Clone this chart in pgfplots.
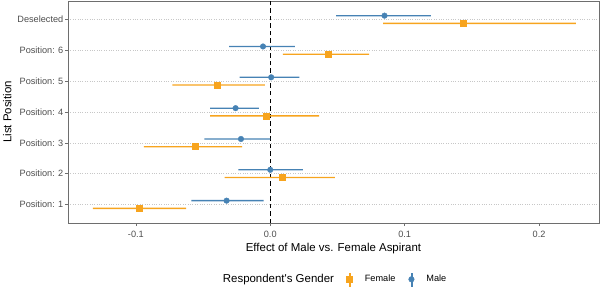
\documentclass[border=0pt]{standalone}
\usepackage{pgfplots}
\pgfplotsset{compat=1.18}
\usepackage{fontspec}
\setmainfont{Liberation Sans}
\definecolor{fem}{RGB}{247,164,30}
\definecolor{mal}{RGB}{70,130,180}
\definecolor{tickgray}{RGB}{77,77,77}
\definecolor{frame}{RGB}{110,110,110}
\begin{document}
\begin{tikzpicture}
\begin{axis}[
 at={(0,0)}, anchor=south west,
 scale only axis, width=531bp, height=222bp,
 xmin=-0.1505, xmax=0.2446, ymin=0.4, ymax=7.6,
 xtick={-0.1,0,0.1,0.2}, xticklabels={-0.1,0.0,0.1,0.2},
 ytick={1,2,3,4,5,6,7},
 yticklabels={Position: 1,Position: 2,Position: 3,Position: 4,Position: 5,Position: 6,Deselected},
 tick align=outside, tick pos=left, major tick length=3bp,
 tick style={frame, line width=0.6bp},
 axis line style={frame, line width=0.6bp},
 ticklabel style={font=\fontsize{9.2}{10}\selectfont, text=tickgray},
 xticklabel style={anchor=north, inner sep=0bp, yshift=-5bp},
 yticklabel style={anchor=east, inner sep=0bp, xshift=-1.5bp},
 ymajorgrids, major grid style={black!22, dotted, line width=0.6bp},
 xlabel={Effect of Male vs. Female Aspirant},
 ylabel={List Position},
 label style={font=\fontsize{11.5}{13}\selectfont},
 xlabel style={at={(axis description cs:0.5,-0.1135)}, anchor=center, inner sep=0bp},
 ylabel style={at={(axis description cs:-0.1143,0.5)}, anchor=center, rotate=0, inner sep=0bp},
 legend style={at={(axis description cs:0.5241,-0.2536)}, anchor=west, draw=none, fill=none,
   legend columns=-1, font=\fontsize{9.2}{10}\selectfont, inner sep=0bp,
   nodes={inner sep=0bp},
   /tikz/every even column/.append style={column sep=13bp},
   /tikz/every odd column/.append style={column sep=12bp}},
 legend cell align=left,
 unbounded coords=jump,
 clip=false,
]
\addplot[black, line width=1bp, dash pattern=on 4.5bp off 3bp, forget plot] coordinates {(0,0.4) (0,7.6)};

% confidence intervals (lo to hi), drawn as thin filled bands
\addplot[fill=fem, draw=none, forget plot] table[x=x, y=y] {
x y
-0.1320 0.854
-0.0627 0.854
-0.0627 0.896
-0.1320 0.896
nan nan
-0.0340 1.854
0.0480 1.854
0.0480 1.896
-0.0340 1.896
nan nan
-0.0940 2.854
-0.0210 2.854
-0.0210 2.896
-0.0940 2.896
nan nan
-0.0448 3.854
0.0364 3.854
0.0364 3.896
-0.0448 3.896
nan nan
-0.0729 4.854
-0.0040 4.854
-0.0040 4.896
-0.0729 4.896
nan nan
0.0094 5.854
0.0736 5.854
0.0736 5.896
0.0094 5.896
nan nan
0.0840 6.854
0.2273 6.854
0.2273 6.896
0.0840 6.896
};
\addplot[fill=mal, draw=none, forget plot] table[x=x, y=y] {
x y
-0.0587 1.104
-0.0050 1.104
-0.0050 1.146
-0.0587 1.146
nan nan
-0.0238 2.104
0.0243 2.104
0.0243 2.146
-0.0238 2.146
nan nan
-0.0490 3.104
0.0000 3.104
0.0000 3.146
-0.0490 3.146
nan nan
-0.0448 4.104
-0.0084 4.104
-0.0084 4.146
-0.0448 4.146
nan nan
-0.0228 5.104
0.0216 5.104
0.0216 5.146
-0.0228 5.146
nan nan
-0.0307 6.104
0.0184 6.104
0.0184 6.146
-0.0307 6.146
nan nan
0.0490 7.104
0.1195 7.104
0.1195 7.146
0.0490 7.146
};

\addplot[only marks, mark=square*, mark size=3bp, fem,
  legend image code/.code={
    \fill[fem] (-0.65bp,-6.5bp) rectangle (0.65bp,6.5bp);
    \fill[fem] (-3bp,-3bp) rectangle (3bp,3bp);}]
  table[x=x, y=y] {
x y
-0.0972 0.875
0.0087 1.875
-0.0558 2.875
-0.0030 3.875
-0.0392 4.875
0.0431 5.875
0.1435 6.875
};
\addlegendentry{Female}

\addplot[only marks, mark=*, mark size=2.8bp, mal,
  legend image code/.code={
    \fill[mal] (-0.65bp,-6.5bp) rectangle (0.65bp,6.5bp);
    \fill[mal] (0bp,0bp) circle (2.8bp);}]
  table[x=x, y=y] {
x y
-0.0325 1.125
0.0000 2.125
-0.0218 3.125
-0.0258 4.125
0.0007 5.125
-0.0054 6.125
0.0850 7.125
};
\addlegendentry{Male}

\node[anchor=west, inner sep=0bp, font=\fontsize{11.5}{13}\selectfont] at (axis description cs:0.2913,-0.2536) {Respondent\textquotesingle s Gender};
\end{axis}
\pgfresetboundingbox
\path (-68bp,-65bp) rectangle (532bp,223bp);
\end{tikzpicture}
\end{document}
